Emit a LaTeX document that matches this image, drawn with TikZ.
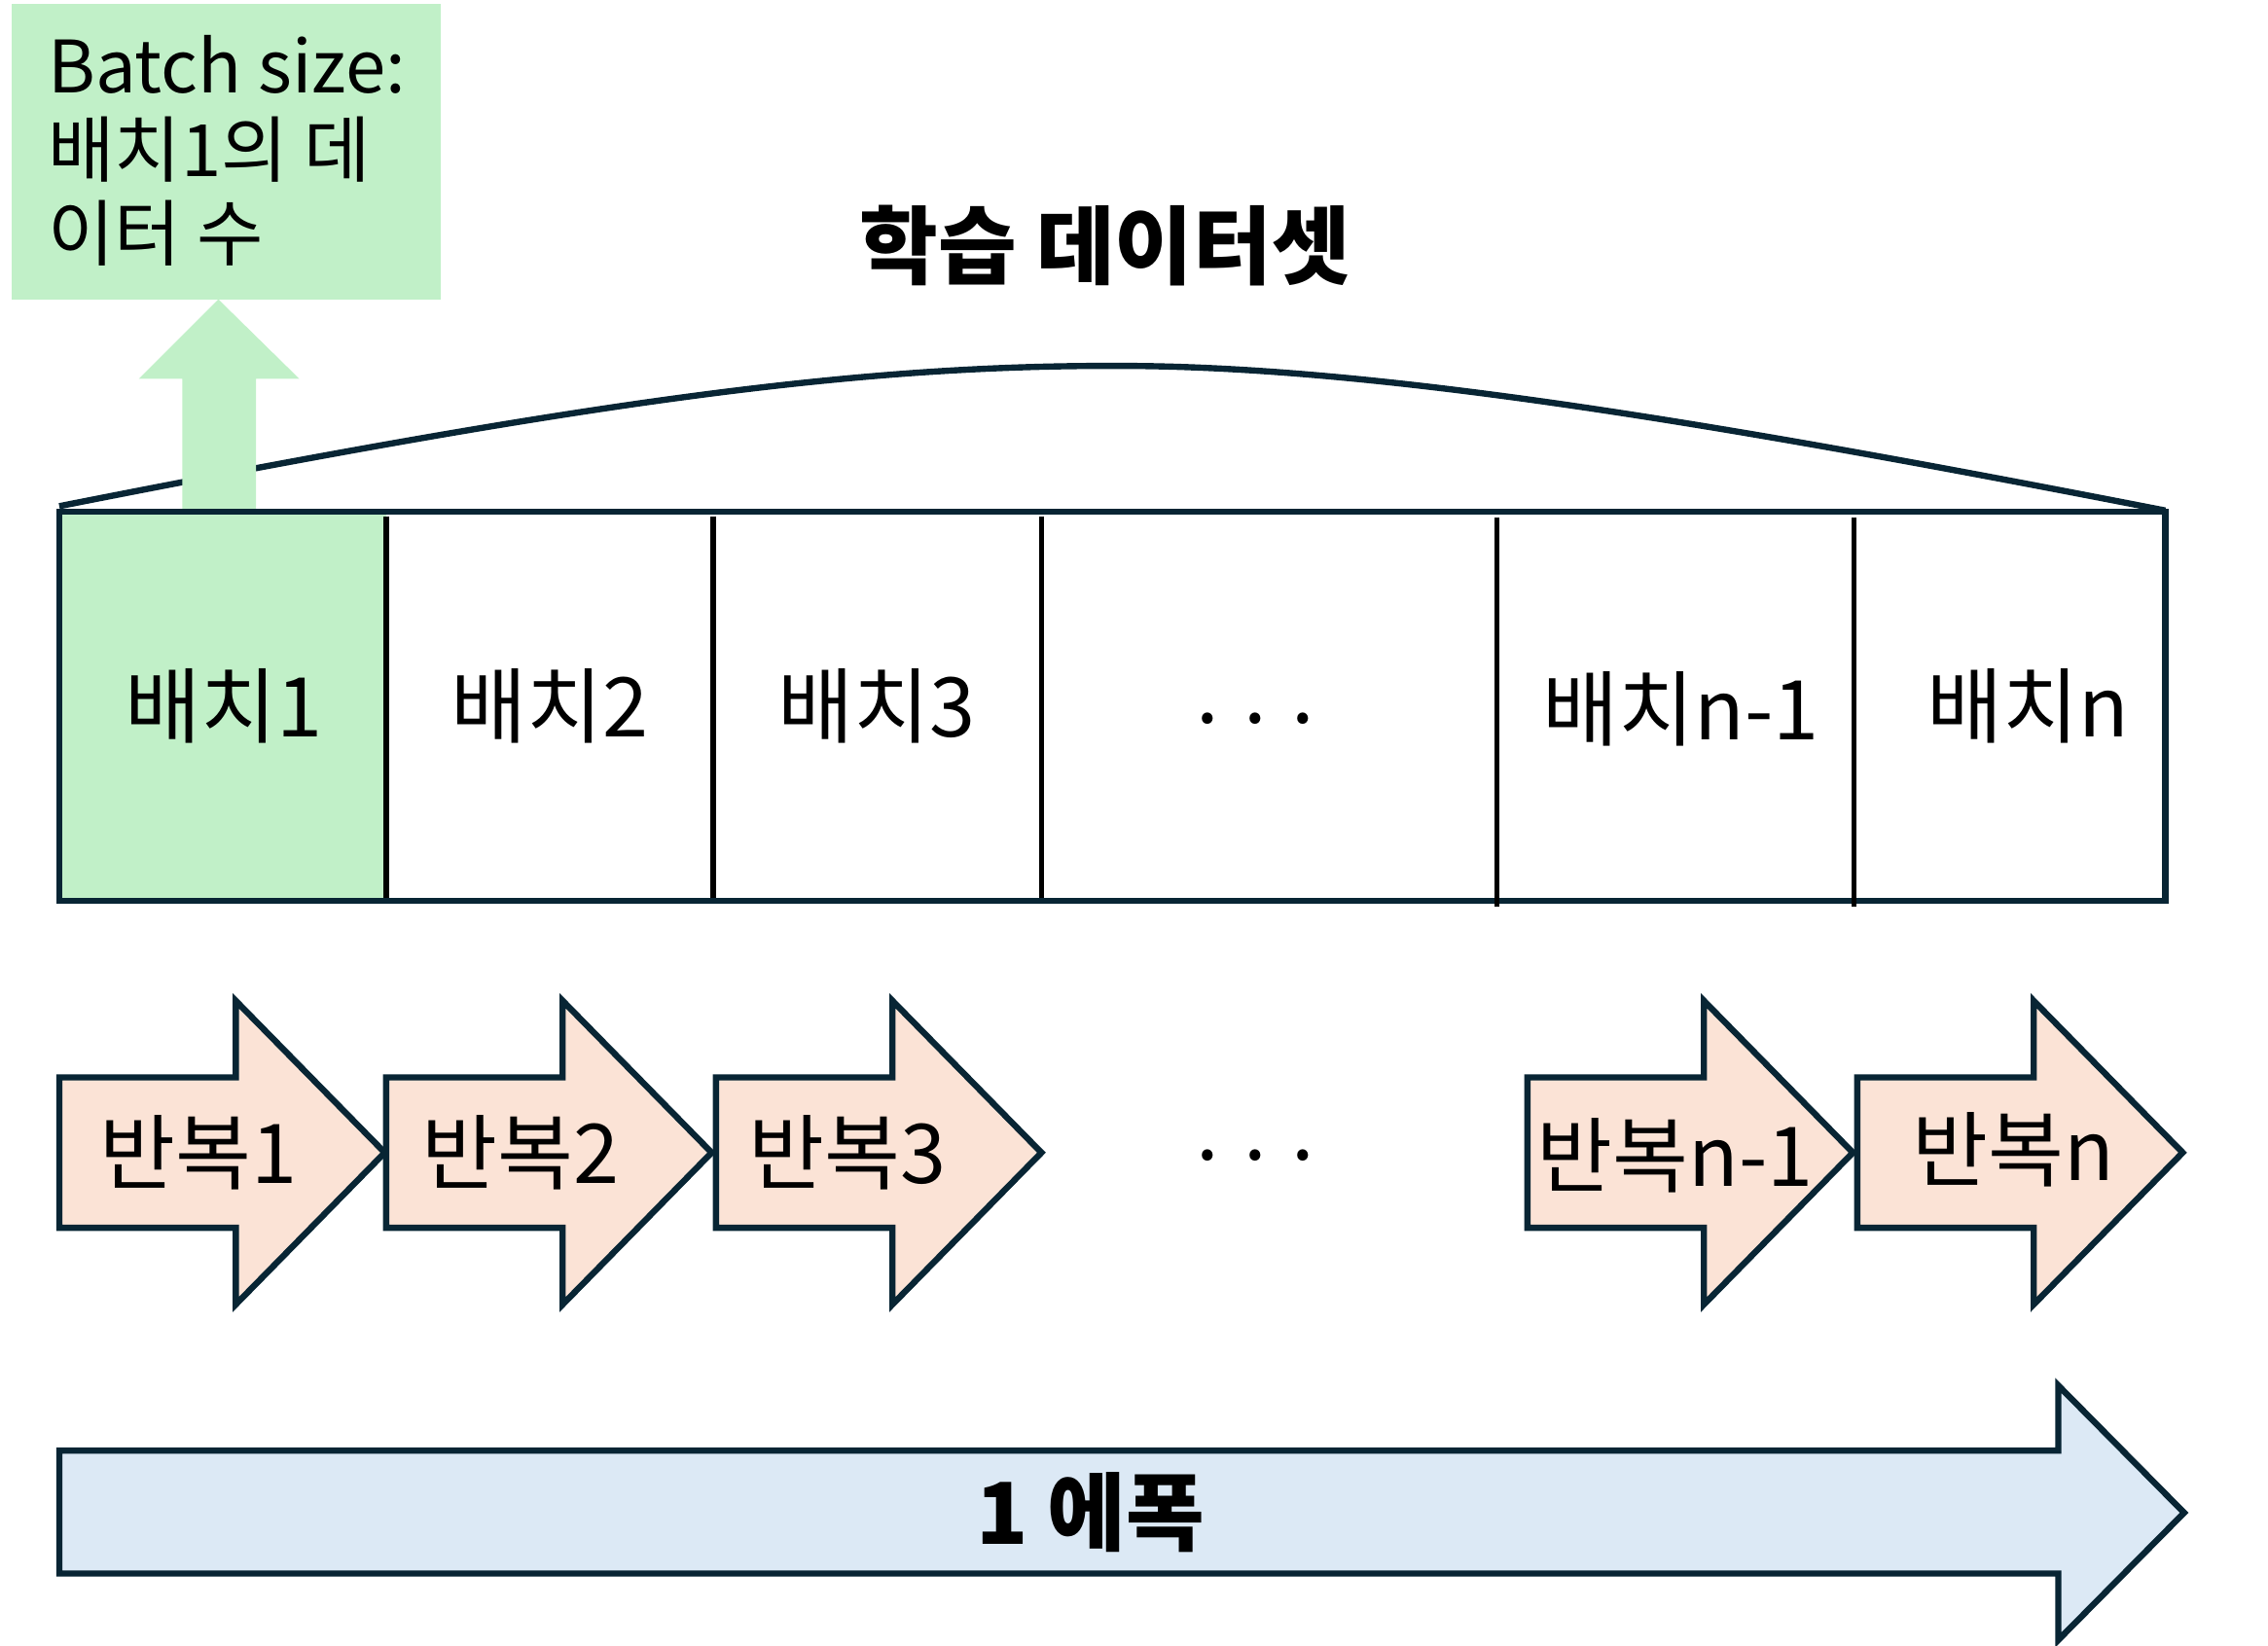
\documentclass[tikz,border=0pt]{standalone}
\usepackage{fontspec}
\setmainfont{Noto Sans CJK KR}
\definecolor{navy}{HTML}{082534}
\definecolor{lgreen}{HTML}{C1F0C8}
\definecolor{peach}{HTML}{FBE3D6}
\definecolor{lblue}{HTML}{DCE9F5}
\tikzset{
  edge/.style={draw=navy, line width=4.3pt, line join=miter},
  divider/.style={draw=black, line width=3.5pt},
  lbl/.style={font=\fontsize{57}{64}\selectfont, inner sep=0pt},
  title/.style={font=\fontsize{59}{66}\selectfont\bfseries, inner sep=0pt},
  iterarr/.pic={\filldraw[edge, fill=peach] (0,-52) -- (122,-52) -- (122,-105) -- (225,0) -- (122,105) -- (122,52) -- (0,52) -- cycle;}
}
\begin{document}
\begin{tikzpicture}[x=1pt,y=-1pt]
\useasboundingbox (0,0) rectangle (1568,1138);
% batch size box
\fill[lgreen] (8,3) rectangle (305,207);
\node[anchor=north west, align=left, font=\fontsize{50}{58}\selectfont, inner sep=0pt] (sizetxt) at (33,24) {Batch size:\\배치1의 데\\이터 수};
% title
\node[title] (title) at (764,170) {학습 데이터셋};
% arc over dataset
\draw[edge] (41,350) .. controls (420,275) and (600,252) .. (780,253) .. controls (960,254) and (1200,295) .. (1497,353);
% green up arrow
\fill[lgreen] (126,352) -- (126,262) -- (96,262) -- (151,207) -- (207,262) -- (177,262) -- (177,352) -- cycle;
% dataset bar
\fill[lgreen] (41,354) rectangle (267,623);
\draw[edge] (41,354) rectangle (1497,623);
\draw[divider] (267,357) -- (267,621);
\draw[divider] (493,357) -- (493,621);
\draw[divider] (720,357) -- (720,621);
\draw[divider] (1035,358) -- (1035,627);
\draw[divider] (1282,358) -- (1282,627);
\node[lbl] (b1) at (155,488) {배치1};
\node[lbl] (b2) at (380,488) {배치2};
\node[lbl] (b3) at (606,488) {배치3};
\node[lbl] (bdots) at (868,497) {. . .};
\node[lbl] (bn1) at (1162,490) {배치n-1};
\node[lbl] (bn) at (1402,488) {배치n};
% iteration arrows
\pic at (41,797) {iterarr};
\pic at (267,797) {iterarr};
\pic at (495,797) {iterarr};
\pic at (1056,797) {iterarr};
\pic at (1284,797) {iterarr};
\node[lbl] (i1) at (137,797) {반복1};
\node[lbl] (i2) at (360,797) {반복2};
\node[lbl] (i3) at (586,797) {반복3};
\node[lbl] (idots) at (868,799) {. . .};
\node[lbl] (in1) at (1158,799) {반복n-1};
\node[lbl] (in) at (1392,795) {반복n};
% epoch arrow
\filldraw[edge, fill=lblue] (41,1003) -- (1423,1003) -- (1423,958) -- (1510,1046) -- (1423,1134) -- (1423,1088) -- (41,1088) -- cycle;
\node[title] (epoch) at (754,1046) {1 에폭};
\end{tikzpicture}
\end{document}
